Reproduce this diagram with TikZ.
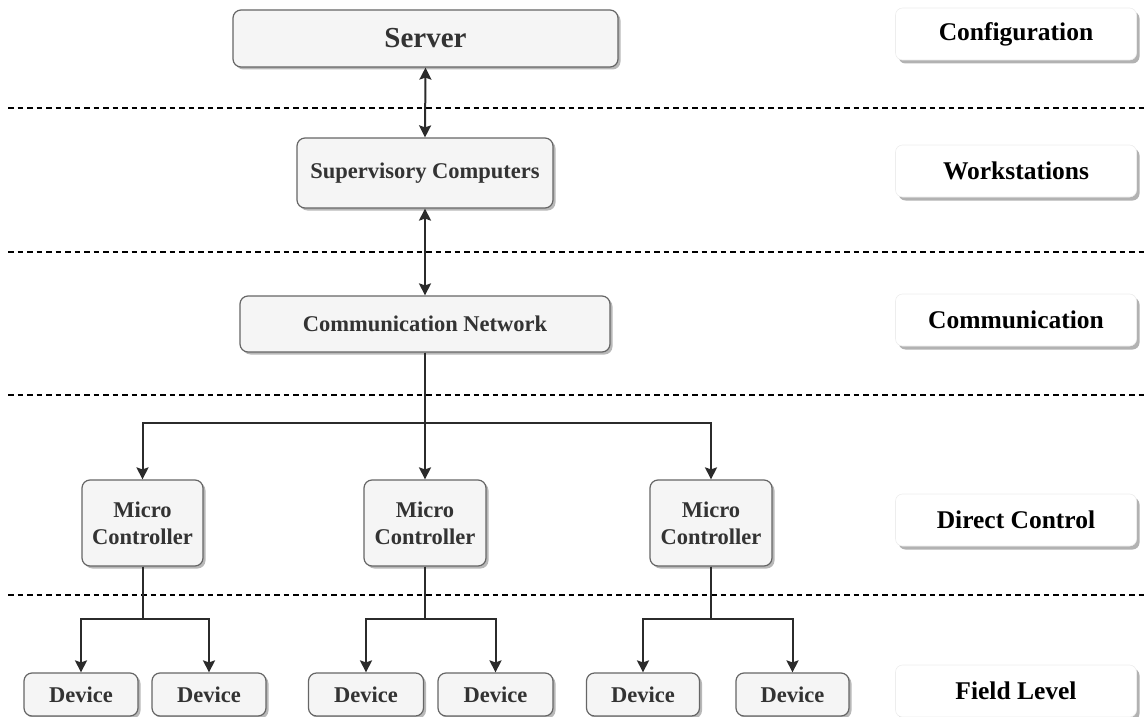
\documentclass[tikz,border=0pt]{standalone}
\usepackage{fontspec}
\setmainfont{Liberation Serif}
\usetikzlibrary{arrows.meta,shadows,positioning}

\definecolor{boxfill}{HTML}{F5F5F5}
\definecolor{boxline}{HTML}{666666}
\definecolor{boxtext}{HTML}{333333}
\definecolor{wire}{HTML}{2B2B2B}

\tikzset{
  unitbox/.style={draw=boxline, fill=boxfill, line width=1.2pt, rounded corners=8pt,
    text=boxtext, align=center, inner sep=0pt,
    font=\bfseries\fontsize{22.5}{27}\selectfont,
    drop shadow={shadow xshift=2.5pt, shadow yshift=-2.5pt, fill=black, opacity=0.28}},
  layertag/.style={draw=black!7, fill=white, line width=0.6pt, rounded corners=7pt,
    minimum width=241pt, minimum height=52pt, inner sep=0pt, text=black,
    font=\bfseries\fontsize{25.5}{30}\selectfont,
    drop shadow={shadow xshift=3pt, shadow yshift=-3.5pt, fill=black, opacity=0.3}},
  layerline/.style={draw=black, line width=1.1pt, dash pattern=on 5.5pt off 4pt},
  tip/.tip={Stealth[length=12pt,width=12pt,inset=2pt]},
  link/.style={draw=wire, line width=2pt},
  feed/.style={link, -tip},
  duplex/.style={link, tip-tip},
}

\begin{document}
\begin{tikzpicture}[x=1pt,y=-1pt]
\useasboundingbox (0,0) rectangle (1144,717);

% layer separators
\foreach \yy in {108,252,395,595}
  \draw[layerline] (8,\yy) -- (1144,\yy);

% layer tags on the right
\node[layertag] (tcfg)  at (1016,34)  {Configuration};
\node[layertag] (twork) at (1016,171) {Workstations};
\node[layertag] (tcomm) at (1016,320) {Communication};
\node[layertag] (tctrl) at (1016,520) {Direct Control};
\node[layertag] (tfld)  at (1016,691) {Field Level};

% upper hierarchy
\node[unitbox, minimum width=385pt, minimum height=57pt,
      font=\bfseries\fontsize{29}{34}\selectfont] (server) at (425.5,38.5) {Server};
\node[unitbox, minimum width=256pt, minimum height=70pt] (super) at (425,173) {Supervisory Computers};
\node[unitbox, minimum width=370pt, minimum height=56pt] (net) at (425,324) {Communication Network};

% micro controllers
\node[unitbox, minimum width=121pt, minimum height=86pt] (mc1) at (142.5,523) {Micro\\Controller};
\node[unitbox, minimum width=122pt, minimum height=86pt] (mc2) at (425,523) {Micro\\Controller};
\node[unitbox, minimum width=122pt, minimum height=86pt] (mc3) at (711,523) {Micro\\Controller};

% field devices
\node[unitbox, minimum width=114pt, minimum height=43pt] (d11) at (81,694.5)  {Device};
\node[unitbox, minimum width=114pt, minimum height=43pt] (d12) at (209,694.5) {Device};
\node[unitbox, minimum width=115pt, minimum height=43pt] (d21) at (366,694.5) {Device};
\node[unitbox, minimum width=115pt, minimum height=43pt] (d22) at (495.5,694.5) {Device};
\node[unitbox, minimum width=113pt, minimum height=43pt] (d31) at (643,694.5) {Device};
\node[unitbox, minimum width=113pt, minimum height=43pt] (d32) at (792.5,694.5) {Device};

% branching points
\coordinate (jnet) at (425,423);
\coordinate (j1) at (142.5,619);
\coordinate (j2) at (425,619);
\coordinate (j3) at (711,619);

% connectors
\draw[duplex] (server.south) -- (super.north);
\draw[duplex] (super.south) -- (net.north);

\draw[feed] (net.south) -- (jnet) -| (mc1.north);
\draw[feed] (net.south) -- (mc2.north);
\draw[feed] (net.south) -- (jnet) -| (mc3.north);

\draw[feed] (mc1.south) -- (j1) -| (d11.north);
\draw[feed] (mc1.south) -- (j1) -| (d12.north);
\draw[feed] (mc2.south) -- (j2) -| (d21.north);
\draw[feed] (mc2.south) -- (j2) -| (d22.north);
\draw[feed] (mc3.south) -- (j3) -| (d31.north);
\draw[feed] (mc3.south) -- (j3) -| (d32.north);
\end{tikzpicture}
\end{document}
